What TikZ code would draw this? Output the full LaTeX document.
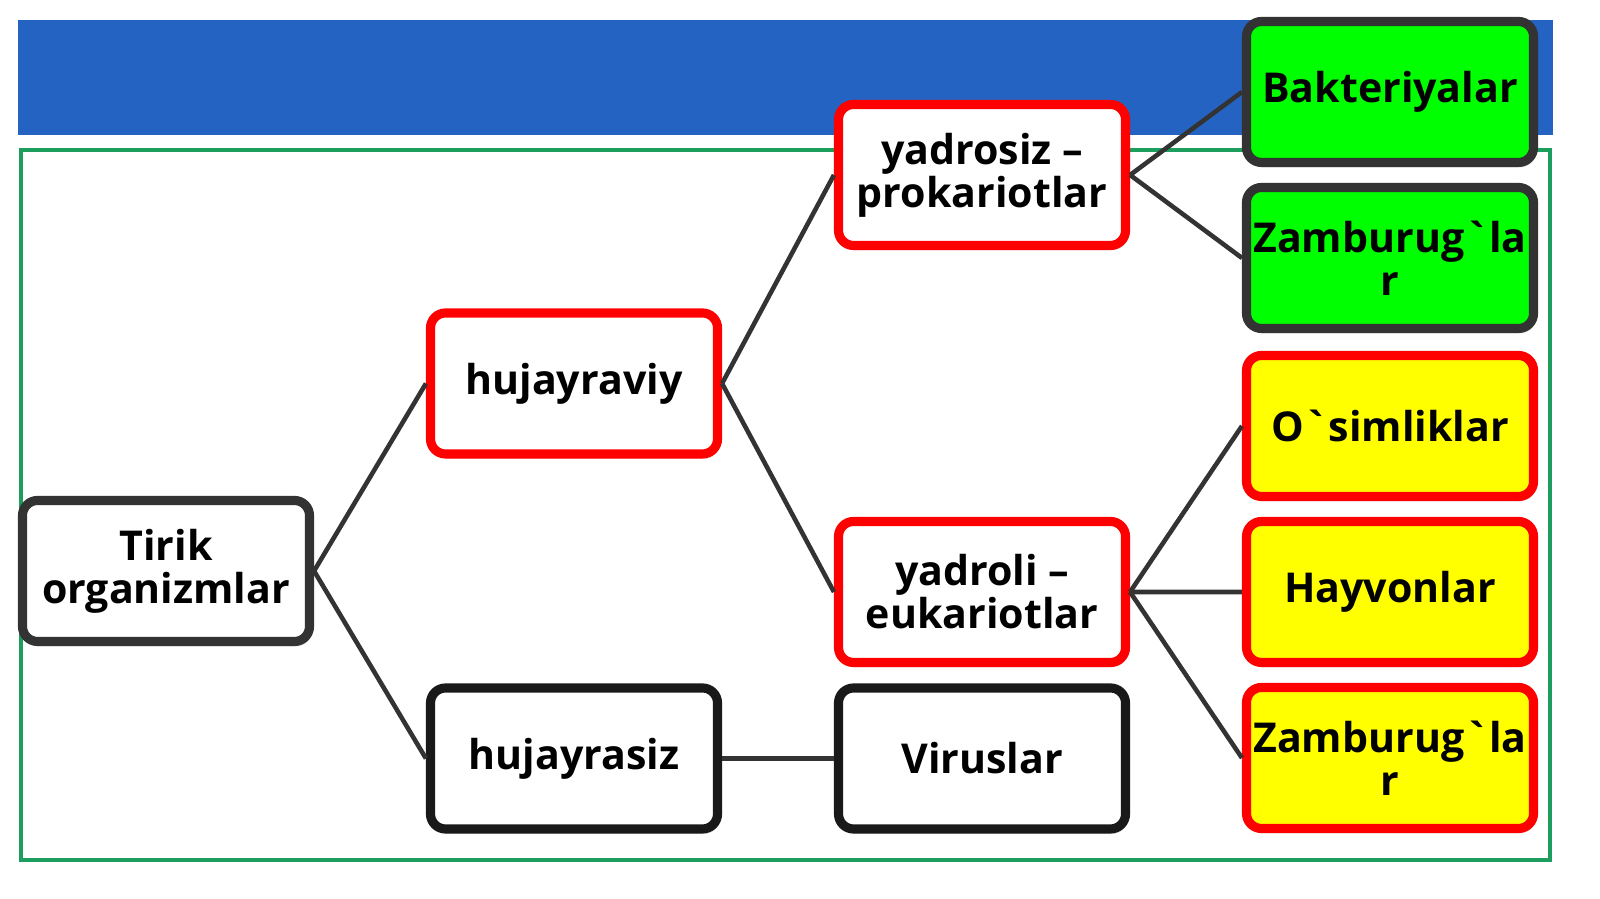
\documentclass[tikz,border=0pt]{standalone}
\usepackage{fontspec}
\newfontfamily\boxfont{Open Sans}
\usetikzlibrary{shadows}
\definecolor{bandblue}{HTML}{2563C2}
\definecolor{framegreen}{HTML}{1E9E5E}
\definecolor{linkgray}{HTML}{333333}
\definecolor{boxred}{HTML}{FF0000}
\definecolor{leafgreen}{HTML}{00FF00}
\definecolor{leafyellow}{HTML}{FFFF00}
\tikzset{
  box/.style={rectangle, rounded corners=0.15cm, line width=2.6pt,
    minimum width=2.87cm, minimum height=1.41cm, inner sep=1pt,
    align=center, fill=white,
    font=\boxfont\bfseries\fontsize{11.7}{12.2}\selectfont,
    drop shadow={opacity=0.18, shadow xshift=0.02cm, shadow yshift=-0.05cm}},
  greybox/.style={box, draw=linkgray},
  redbox/.style={box, draw=boxred},
  blackbox/.style={box, draw=black!90},
  greenbox/.style={greybox, fill=leafgreen},
  yellowbox/.style={redbox, fill=leafyellow}
}
\begin{document}
\begin{tikzpicture}[grow'=right, level distance=4.08cm,
        level 1/.style={sibling distance=3.75cm},
        level 2/.style={sibling distance=4.17cm},
        level 3/.style={sibling distance=1.66cm},
        edge from parent/.style={draw=linkgray, line width=1.3pt},
        edge from parent path={(\tikzparentnode.east) -- (\tikzchildnode.west)}]
        \useasboundingbox (0,0) rectangle (16,8.99);
        \fill[bandblue] (0.18,7.64) rectangle (15.53,8.79);
        \draw[framegreen, line width=1.1pt] (0.21,0.39) rectangle (15.50,7.49);
        \node[greybox] (tirik) at (1.66,3.28) {Tirik\\organizmlar}
            child{node[redbox] (cell) {hujayraviy}
                child{node[redbox] (prok) {yadrosiz –\\prokariotlar}
                    child{node[greenbox] (bact) {Bakteriyalar}}
                    child{node[greenbox] (fungia) {Zamburug`la\\r}}
                }
                child{node[redbox] (euk) {yadroli –\\eukariotlar}
                    child{node[yellowbox] (plant) {O`simliklar}}
                    child{node[yellowbox] (animal) {Hayvonlar}}
                    child{node[yellowbox] (fungib) {Zamburug`la\\r}}
                }
            }
            child{node[blackbox] (noncell) {hujayrasiz}
                child{node[blackbox] (virus) {Viruslar}}
            };
    \end{tikzpicture}
\end{document}
